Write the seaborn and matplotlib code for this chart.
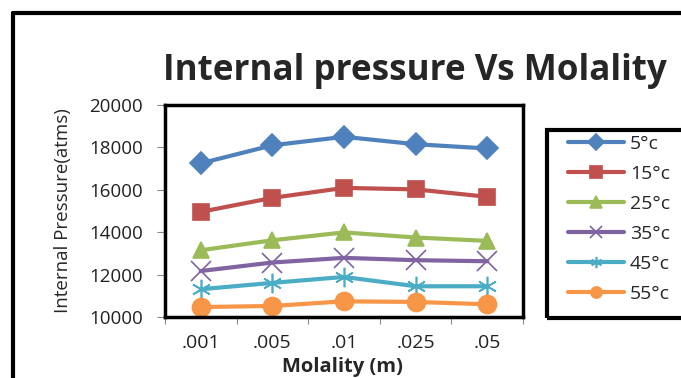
import matplotlib
matplotlib.use('Agg')
import matplotlib.pyplot as plt
import seaborn as sns
import pandas as pd
from matplotlib.lines import Line2D
from matplotlib.patches import Rectangle

molality = ['.001', '.005', '.01', '.025', '.05']
temps = ['5°c', '15°c', '25°c', '35°c', '45°c', '55°c']
p5 = [17250, 18100, 18500, 18150, 17950]
p15 = [14960, 15620, 16090, 16020, 15670]
p25 = [13150, 13620, 13990, 13750, 13590]
p35 = [12170, 12570, 12790, 12680, 12630]
p45 = [11310, 11610, 11890, 11450, 11450]
p55 = [10470, 10520, 10740, 10710, 10600]

series = [p5, p15, p25, p35, p45, p55]
rows = []
for t, vals in zip(temps, series):
    for i, v in enumerate(vals):
        rows.append({'pos': i, 'm': molality[i], 'temp': t, 'pressure': v})
df = pd.DataFrame(rows)

colors = ['#4F81BD', '#C0504D', '#9BBB59', '#8064A2', '#4BACC6', '#F79646']
markers = ['D', 's', '^', 'x', (6, 2, 0), 'o']
sizes = [11, 12, 12, 14, 14, 13]

sns.set_style('white')
plt.rcParams['font.family'] = ['Open Sans', 'DejaVu Sans']

fig = plt.figure(figsize=(6.81, 3.78), dpi=100)
W, H = 681, 378
ax = fig.add_axes([165 / W, 1 - 317 / H, (523 - 165) / W, (317 - 105) / H])

for t, c, mk, ms in zip(temps, colors, markers, sizes):
    d = df[df['temp'] == t]
    sns.lineplot(data=d, x='pos', y='pressure', ax=ax, color=c, marker=mk,
                 markersize=ms, linewidth=3, markeredgecolor=c,
                 markeredgewidth=1.2, label=t)

ax.set_xlim(-0.5, 4.5)
ax.set_ylim(10000, 20000)
ax.set_yticks(range(10000, 20001, 2000))
ax.set_xticks([i - 0.5 for i in range(6)])
ax.set_xticklabels([])
ax.set_xticks(range(5), minor=True)
ax.set_xticklabels(molality, minor=True, fontsize=14, color='#222222')
ax.tick_params(axis='x', which='minor', length=0, pad=12)
ax.tick_params(axis='x', which='major', length=5, color='#888888', direction='out', bottom=True)
ax.tick_params(axis='y', length=6, color='#888888', direction='out', left=True,
               labelsize=13.5, labelcolor='#222222', pad=10)
for s in ax.spines.values():
    s.set_color('black')
    s.set_linewidth(2.5)

ax.set_xlabel('Molality (m)', fontsize=14.5, fontweight='bold', va='top')
ax.xaxis.set_label_coords(0.497, -40 / 212)
ax.set_ylabel('Internal Pressure(atms)', fontsize=13.5, labelpad=12)

fig.text(163 / W, 1 - 71 / H, 'Internal pressure Vs Molality', fontsize=25.2,
         fontweight='bold', ha='left', va='center')

leg = ax.legend(loc='upper left', bbox_to_anchor=(563 / W, 1 - 130 / H),
                bbox_transform=fig.transFigure, frameon=False,
                fontsize=14, handlelength=2.9, labelspacing=0.62,
                borderaxespad=0, borderpad=0.25, handletextpad=0.3)
for h in leg.legend_handles:
    h.set_markersize(8)
fig.add_artist(Rectangle((547 / W, 1 - 318 / H), (W + 5 - 547) / W, (318 - 130) / H,
                         transform=fig.transFigure, fill=False, edgecolor='black',
                         linewidth=3, clip_on=False))

fig.add_artist(Line2D([13 / W, 13 / W], [0, 1 - 13 / H], color='black', lw=3))
fig.add_artist(Line2D([13 / W, 1], [1 - 13 / H, 1 - 13 / H], color='black', lw=3))

fig.savefig('out.png', dpi=100)
